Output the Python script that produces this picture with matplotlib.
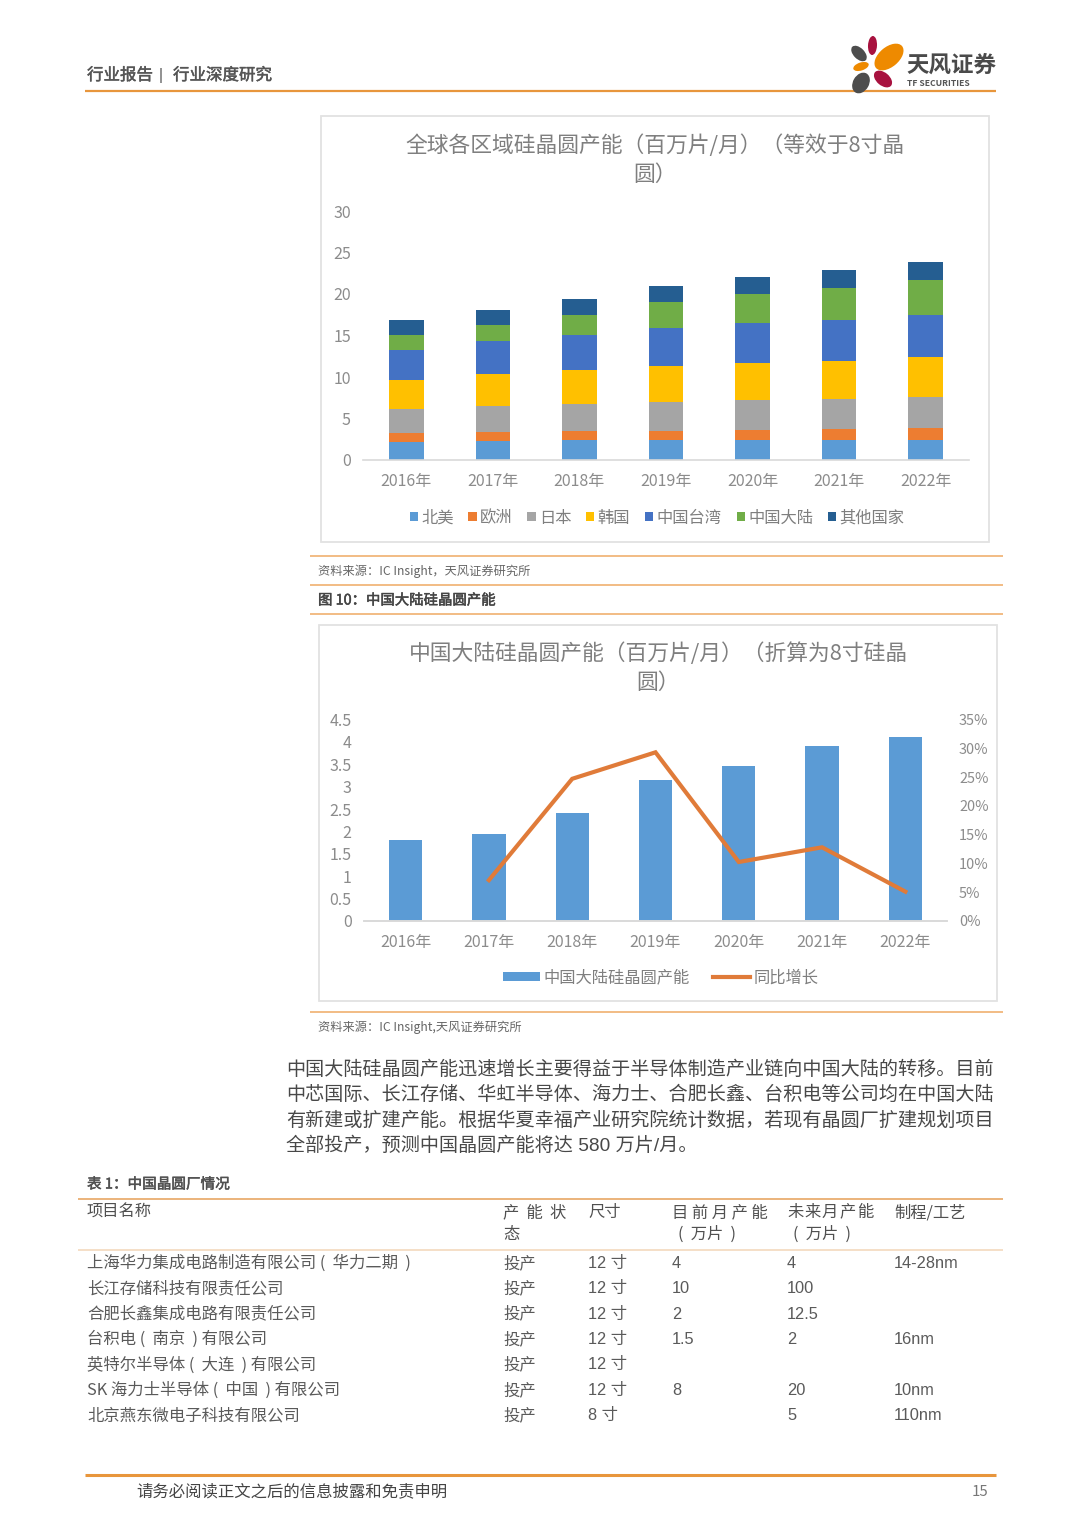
import matplotlib
matplotlib.use('Agg')
import matplotlib.pyplot as plt
import matplotlib.patheffects as pe
from matplotlib.patches import Rectangle, Ellipse
import numpy as np

plt.rcParams['font.family'] = ['Noto Sans CJK SC', 'DejaVu Sans']
TABLE_FONT = ['Liberation Sans', 'Noto Sans CJK SC', 'DejaVu Sans']

years = ['2016年', '2017年', '2018年', '2019年', '2020年', '2021年', '2022年']

# stacked chart, million wafers / month
regions = ['北美', '欧洲', '日本', '韩国', '中国台湾', '中国大陆', '其他国家']
north_america = [2.17, 2.29, 2.37, 2.40, 2.41, 2.41, 2.45]
europe = [1.12, 1.08, 1.12, 1.10, 1.24, 1.37, 1.37]
japan = [2.81, 3.13, 3.26, 3.45, 3.58, 3.57, 3.78]
korea = [3.54, 3.90, 4.15, 4.35, 4.47, 4.58, 4.77]
taiwan = [3.66, 3.94, 4.20, 4.60, 4.80, 4.94, 5.13]
mainland = [1.80, 1.96, 2.40, 3.14, 3.46, 3.89, 4.20]
others = [1.73, 1.73, 1.94, 1.92, 2.14, 2.14, 2.20]
region_colors = ['#5b9bd5', '#ed7d31', '#a5a5a5', '#ffc000', '#4472c4', '#70ad47', '#255e91']

# second chart
capacity = [1.82, 1.945, 2.42, 3.14, 3.46, 3.90, 4.10]
growth = [np.nan, 7.1, 24.7, 29.3, 10.25, 12.8, 5.1]

body_lines = [
    '中国大陆硅晶圆产能迅速增长主要得益于半导体制造产业链向中国大陆的转移。目前',
    '中芯国际、长江存储、华虹半导体、海力士、合肥长鑫、台积电等公司均在中国大陆',
    '有新建或扩建产能。根据华夏幸福产业研究院统计数据，若现有晶圆厂扩建规划项目',
    '全部投产，预测中国晶圆产能将达 580 万片/月。',
]

table_names = ['上海华力集成电路制造有限公司 (  华力二期  )', '长江存储科技有限责任公司', '合肥长鑫集成电路有限责任公司',
               '台积电 (  南京  ) 有限公司', '英特尔半导体 (  大连  ) 有限公司', 'SK 海力士半导体 (  中国  ) 有限公司',
               '北京燕东微电子科技有限公司']
table_status = ['投产'] * 7
table_size = ['12 寸', '12 寸', '12 寸', '12 寸', '12 寸', '12 寸', '8 寸']
table_now = ['4', '10', '2', '1.5', '', '8', '']
table_future = ['4', '100', '12.5', '2', '', '20', '5']
table_process = ['14-28nm', '', '', '16nm', '', '10nm', '110nm']

W, H = 1080, 1527
fig = plt.figure(figsize=(W / 100, H / 100), dpi=100, facecolor='white')

# page layer in pixel coordinates
page = fig.add_axes([0, 0, 1, 1])
page.set_xlim(0, W)
page.set_ylim(H, 0)
page.axis('off')


def px(points):
    return points * 0.72


def axes_at(left, top, right, bottom):
    return fig.add_axes([left / W, 1 - bottom / H, (right - left) / W, (bottom - top) / H], facecolor='none')


def rule(x0, x1, y, color='#f0b070', lw=1.2):
    page.plot([x0, x1], [y, y], color=color, lw=lw, solid_capstyle='butt')


def label(x, y, s, size=16, color='#404040', heavy=False, **kw):
    kw.setdefault('va', 'center')
    t = page.text(x - 1, y + 1.5, s, fontsize=px(size), color=color, **kw)
    # the page uses a medium weight, the installed font only has regular and bold
    if heavy:
        t.set_path_effects([pe.withStroke(linewidth=0.35, foreground=color)])


# header
label(88, 74, '行业报告', size=16.5, color='#555555', heavy=True)
label(162, 74, '|', size=16, color='#555555', ha='center', family=TABLE_FONT)
label(174, 74, '行业深度研究', size=16.5, color='#555555', heavy=True)
rule(85, 996, 91, color='#e8963c', lw=1.6)
petals = [(872.5, 45.5, 9, 19, 3, '#a8123f'), (889, 57, 20, 34, 50, '#ee8a00'), (859, 53.5, 11, 19, -45, '#4d4d4d'),
          (861, 66.5, 8, 16, 72, '#ee8a00'), (861, 83, 16, 22, 30, '#4d4d4d'), (883, 79, 13, 21, -50, '#a8123f')]
for cx, cy, a, b, ang, col in petals:
    page.add_patch(Ellipse((cx, cy), a, b, angle=ang, color=col, lw=0, zorder=3))
label(907, 63.5, '天风证券', size=22.5, color='#4a4a4a', fontweight='bold')
label(908, 81.5, 'TF SECURITIES', size=8.6, color='#555555', fontweight='bold')

# chart frames
page.add_patch(Rectangle((321, 116), 668, 426, fill=False, ec='#e2e2e2', lw=1.3))
page.add_patch(Rectangle((319, 625), 678, 376, fill=False, ec='#e2e2e2', lw=1.3))

# chart 1: stacked bars
label(656, 144, '全球各区域硅晶圆产能（百万片/月）（等效于8寸晶', size=21.8, color='#7f7f7f', ha='center')
label(656, 173, '圆）', size=21.8, color='#7f7f7f', ha='center')
ax1 = axes_at(363, 211, 969, 460)
bottom = np.zeros(len(years))
for values, name, col in zip([north_america, europe, japan, korea, taiwan, mainland, others], regions, region_colors):
    ax1.bar(years, values, 0.4, bottom=bottom, color=col, label=name)
    bottom += np.array(values)
ax1.set_ylim(0, 30)
ax1.set_xlim(-0.5, 6.5)
ax1.set_yticks(range(0, 31, 5))
ax1.legend(loc='center', bbox_to_anchor=(657 / W, 1 - 518 / H), bbox_transform=fig.transFigure, ncol=7, frameon=False,
           fontsize=px(16.3), labelcolor='#7f7f7f', handlelength=0.5, handleheight=0.5, handletextpad=0.2,
           columnspacing=0.92, borderpad=0)

# chart 2: bars and line
label(659, 652, '中国大陆硅晶圆产能（百万片/月）（折算为8寸硅晶', size=21.8, color='#7f7f7f', ha='center')
label(659, 681, '圆）', size=21.8, color='#7f7f7f', ha='center')
ax2 = axes_at(364, 719.5, 947, 921)
bar2 = ax2.bar(years, capacity, 0.4, color='#5b9bd5', label='中国大陆硅晶圆产能')
ax2.set_ylim(0, 4.5)
ax2.set_xlim(-0.5, 6.5)
ax2.set_yticks(np.arange(0, 4.6, 0.5))
ax2.set_yticklabels(['0', '0.5', '1', '1.5', '2', '2.5', '3', '3.5', '4', '4.5'])
ax2b = ax2.twinx()
ax2b.set_facecolor('none')
line2, = ax2b.plot(years, growth, color='#e07b39', lw=3.0, label='同比增长', solid_joinstyle='miter')
ax2b.set_ylim(0, 35)
ax2b.set_yticks(range(0, 36, 5))
ax2b.set_yticklabels([f'{v}%' for v in range(0, 36, 5)])
ax2.legend(handles=[bar2, line2], loc='center', bbox_to_anchor=(661 / W, 1 - 978 / H), bbox_transform=fig.transFigure,
           ncol=2, frameon=False, fontsize=px(16.3), labelcolor='#7f7f7f', handlelength=2.25, handleheight=0.5,
           handletextpad=0.25, columnspacing=1.4, borderpad=0)

for ax in (ax1, ax2, ax2b):
    for side in ('top', 'left', 'right'):
        ax.spines[side].set_visible(False)
    ax.spines['bottom'].set_color('#d9d9d9')
    ax.spines['bottom'].set_linewidth(1.2)
    ax.tick_params(length=0, labelsize=px(16), labelcolor='#8c8c8c')
ax1.tick_params(axis='x', pad=px(13))
ax1.tick_params(axis='y', pad=px(12))
ax2.tick_params(axis='x', pad=px(13))
ax2.tick_params(axis='y', pad=px(12.5))
ax2b.tick_params(axis='y', pad=px(12), labelsize=px(14.5))

# captions and rules
rule(310, 1003, 556)
label(319, 570, '资料来源：IC Insight，天风证券研究所', size=12.2, color='#666666')
rule(310, 1003, 585)
label(319, 599, '图 10：中国大陆硅晶圆产能', size=14.4, color='#444444', heavy=True)
rule(310, 1003, 614)
rule(310, 1003, 1012)
label(319, 1026, '资料来源：IC Insight,天风证券研究所', size=12.2, color='#666666')

# body text
for i, line in enumerate(body_lines):
    label(287, 1068 + i * 25.3, line, size=19.1, color='#484848', family=TABLE_FONT)

# table
label(88, 1183, '表 1：中国晶圆厂情况', size=14.6, color='#505050', heavy=True)
rule(78, 1003, 1199, color='#e8a765', lw=1.2)
rule(78, 1003, 1250, color='#f3d9bd', lw=1.2)
head_color = '#505050'
label(88, 1211, '项目名称', size=16.3, color=head_color)
label(504, 1211, '产  能  状', size=16.3, color=head_color)
label(504, 1233, '态', size=16.3, color=head_color)
label(589, 1211, '尺寸', size=16.3, color=head_color)
label(673, 1211, '目 前 月 产 能', size=16.3, color=head_color)
label(679, 1233, '(  万片  )', size=16.3, color=head_color)
for j, ch in enumerate('未来月产能'):
    label(788 + j * 17.5, 1211, ch, size=16.3, color=head_color)
label(794, 1233, '(  万片  )', size=16.3, color=head_color)
label(895, 1211, '制程/工艺', size=16.3, color=head_color)
row_color = '#5a5a5a'
for i in range(len(table_names)):
    y = 1262 + i * 25.35
    label(88, y, table_names[i], size=16.35, color=row_color)
    label(504, y, table_status[i], size=16.35, color=row_color)
    label(589, y, table_size[i], size=16.35, color=row_color, family=TABLE_FONT)
    label(673, y, table_now[i], size=16.35, color=row_color, family=TABLE_FONT)
    label(788, y, table_future[i], size=16.35, color=row_color, family=TABLE_FONT)
    label(895, y, table_process[i], size=16.35, color=row_color, family=TABLE_FONT)

# footer
rule(85, 996, 1475, color='#e8963c', lw=2.2)
label(137, 1490, '请务必阅读正文之后的信息披露和免责申明', size=16.4, color='#444444')
label(989, 1490, '15', size=15, color='#777777', ha='right')

fig.savefig('out.png', dpi=100)
